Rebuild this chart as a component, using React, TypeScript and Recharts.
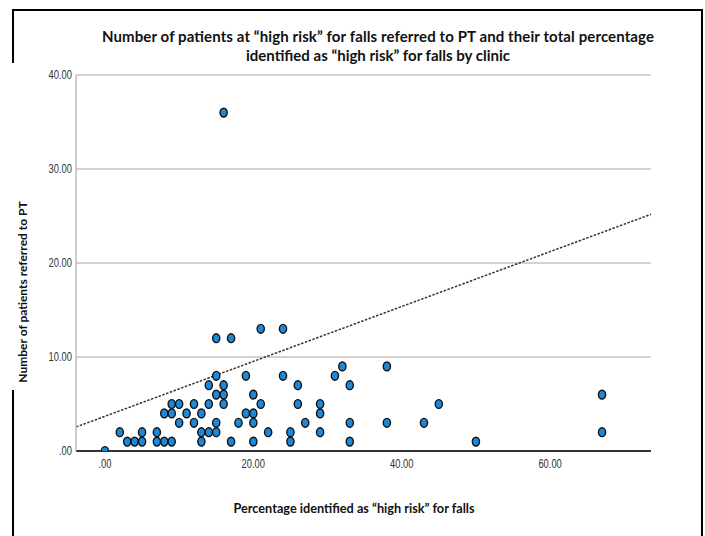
import React from "react";
import {
  ScatterChart,
  Scatter,
  XAxis,
  YAxis,
  CartesianGrid,
  ReferenceLine,
} from "recharts";

// Percentage identified as "high risk" for falls (per clinic)
const percentHighRisk: number[] = [
  0,
  3, 4, 5, 7, 8, 9, 13, 17, 20, 25, 33, 50,
  2, 5, 7, 13, 14, 15, 22, 25, 29, 67,
  10, 12, 15, 18, 20, 27, 33, 38, 43,
  8, 9, 11, 13, 19, 20, 29,
  9, 10, 12, 14, 16, 21, 26, 29, 45,
  15, 16, 20, 67,
  14, 16, 26, 33,
  15, 19, 24, 31,
  32, 38,
  15, 17,
  21, 24,
  16,
];

// Number of patients referred to PT (per clinic)
const referredToPT: number[] = [
  0,
  1, 1, 1, 1, 1, 1, 1, 1, 1, 1, 1, 1,
  2, 2, 2, 2, 2, 2, 2, 2, 2, 2,
  3, 3, 3, 3, 3, 3, 3, 3, 3,
  4, 4, 4, 4, 4, 4, 4,
  5, 5, 5, 5, 5, 5, 5, 5, 5,
  6, 6, 6, 6,
  7, 7, 7, 7,
  8, 8, 8, 8,
  9, 9,
  12, 12,
  13, 13,
  36,
];

const xTicks = [0, 20, 40, 60];
const yTicks = [0, 10, 20, 30, 40];
const xDomain: [number, number] = [-3.9, 73.6];
const yDomain: [number, number] = [0, 40];

// Fit line shown on the chart
const fitIntercept = 3.69;
const fitSlope = 0.292;

const titleLines = [
  "Number of patients at \u201Chigh risk\u201D for falls referred to PT and their total percentage",
  "identified as \u201Chigh risk\u201D for falls by clinic",
];
const xTitle = "Percentage identified as \u201Chigh risk\u201D for falls";
const yTitle = "Number of patients referred to PT";

const data = percentHighRisk.map((x, i) => ({ x, y: referredToPT[i] }));
const fitSegment = [
  { x: xDomain[0], y: fitIntercept + fitSlope * xDomain[0] },
  { x: xDomain[1], y: fitIntercept + fitSlope * xDomain[1] },
];

const fmt = (v: number) => (v === 0 ? ".00" : v.toFixed(2));

const tickFont = "'Liberation Sans', Arial, sans-serif";
const labelFont = "Lato, 'Open Sans', sans-serif";

const Dot = (props: any) => {
  const { cx, cy } = props;
  if (cx == null || cy == null) return null;
  return (
    <ellipse cx={cx} cy={cy} rx={3.6} ry={4.4} fill="#1e88d8" stroke="#111" strokeWidth={1.4} />
  );
};

const XTick = (props: any) => {
  const { x, y, payload } = props;
  return (
    <text
      transform={`translate(${x},${y}) scale(0.78,1)`}
      textAnchor="middle"
      dy="0.71em"
      fontSize={12}
      fill="#333"
      fontFamily={tickFont}
    >
      {fmt(payload.value)}
    </text>
  );
};

const YTick = (props: any) => {
  const { x, y, payload } = props;
  return (
    <text
      transform={`translate(${x},${y}) scale(0.78,1)`}
      textAnchor="end"
      dy="0.355em"
      fontSize={12}
      fill="#333"
      fontFamily={tickFont}
    >
      {fmt(payload.value)}
    </text>
  );
};

export default function App() {
  return (
    <div style={{ position: "absolute", left: 0, top: 0, width: 705, height: 536, background: "#fff" }}>
      <ScatterChart
        width={705}
        height={536}
        margin={{ top: 75, right: 54, bottom: 0, left: 0 }}
      >
        <CartesianGrid horizontal vertical={false} stroke="#d2d2d2" strokeWidth={2} />
        <XAxis
          type="number"
          dataKey="x"
          domain={xDomain}
          ticks={xTicks}
          allowDataOverflow
          height={85}
          tickLine={false}
          tickSize={6}
          tickMargin={2}
          axisLine={{ stroke: "#333", strokeWidth: 2 }}
          tick={<XTick />}
        />
        <YAxis
          type="number"
          dataKey="y"
          domain={yDomain}
          ticks={yTicks}
          allowDataOverflow
          width={76}
          tickLine={false}
          tickSize={4}
          tickMargin={0}
          axisLine={{ stroke: "#bdbdbd", strokeWidth: 1.5 }}
          tick={<YTick />}
        />
        <ReferenceLine
          segment={fitSegment}
          stroke="#333"
          strokeWidth={1.5}
          strokeDasharray="2.5 1.5"
        />
        <Scatter data={data} shape={<Dot />} isAnimationActive={false} />
      </ScatterChart>
      <svg
        width={705}
        height={536}
        style={{ position: "absolute", left: 0, top: 0, pointerEvents: "none" }}
      >
        <line x1={12} y1={10} x2={703} y2={10} stroke="#000" strokeWidth={2} />
        <line x1={13} y1={9} x2={13} y2={63} stroke="#000" strokeWidth={2} />
        <line x1={13} y1={390} x2={13} y2={536} stroke="#000" strokeWidth={2} />
        <line x1={702} y1={9} x2={702} y2={536} stroke="#000" strokeWidth={2} />
        <text x={378} y={42} textAnchor="middle" fontFamily={labelFont} fontWeight="bold" fontSize={15} fill="#111" textLength={552} lengthAdjust="spacing">
          {titleLines[0]}
        </text>
        <text x={378} y={61} textAnchor="middle" fontFamily={labelFont} fontWeight="bold" fontSize={15} fill="#111">
          {titleLines[1]}
        </text>
        <text x={354} y={513} textAnchor="middle" fontFamily={labelFont} fontWeight="bold" fontSize={12.7} fill="#111">
          {xTitle}
        </text>
        <text
          x={0}
          y={0}
          transform="translate(27, 292) rotate(-90)"
          textAnchor="middle"
          fontFamily={labelFont}
          fontWeight="bold"
          fontSize={12}
          fill="#111"
        >
          {yTitle}
        </text>
      </svg>
    </div>
  );
}
